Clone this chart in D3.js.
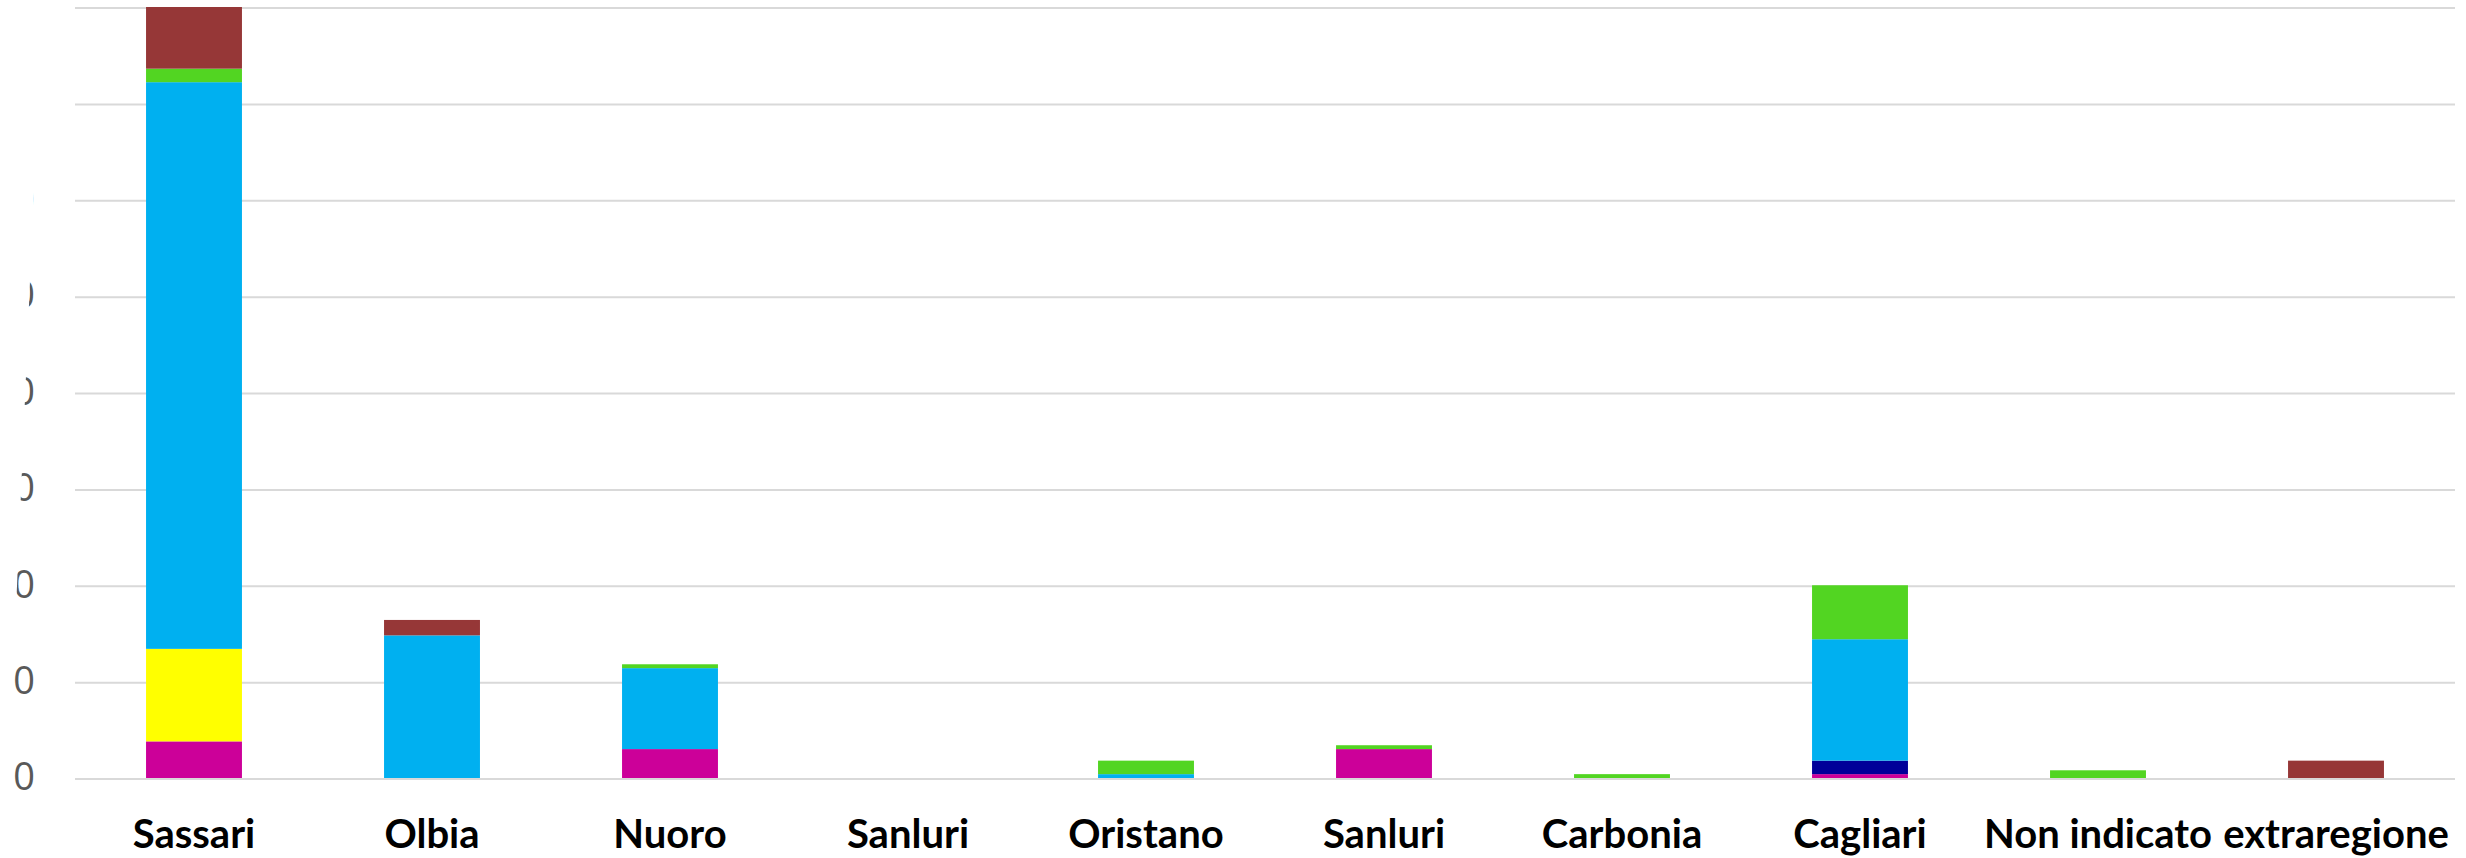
<!DOCTYPE html>
<html>
<head>
<meta charset="utf-8">
<script src="https://cdn.jsdelivr.net/npm/d3@7"></script>
<style>
  html, body { margin: 0; padding: 0; background: #ffffff; }
  svg { display: block; }
</style>
</head>
<body>
<svg id="chart" width="2466" height="858"></svg>
<script>
// ---- data ----
const categories = ["Sassari", "Olbia", "Nuoro", "Sanluri", "Oristano", "Sanluri", "Carbonia", "Cagliari", "Non indicato", "extraregione"];
const seriesNames = ["Serie 1", "Serie 2", "Serie 3", "Serie 4", "Serie 5", "Serie 6"];
const serie1 = [19, 0, 15, 0, 0, 15, 0, 2, 0, 0];   // magenta
const serie2 = [48, 0, 0, 0, 0, 0, 0, 0, 0, 0];     // yellow
const serie3 = [0, 0, 0, 0, 0, 0, 0, 7, 0, 0];      // navy
const serie4 = [294, 74, 42, 0, 2, 0, 0, 63, 0, 0]; // light blue
const serie5 = [7, 0, 2, 0, 7, 2, 2, 28, 4, 0];     // green
const serie6 = [32, 8, 0, 0, 0, 0, 0, 0, 0, 9];     // brown
const yTicks = [0, 50, 100, 150, 200, 250, 300, 350, 400];
const colors = ["#CC0099", "#FFFF00", "#000099", "#00B0F0", "#52D522", "#963737"];

// ---- layout ----
const svg = d3.select("#chart");
const plotLeft = 75, plotRight = 2455, plotBottom = 778, plotTop = 7;

const allSeries = [serie1, serie2, serie3, serie4, serie5, serie6];
const rows = categories.map((c, i) => {
  const r = { idx: i };
  seriesNames.forEach((s, k) => { r[s] = allSeries[k][i]; });
  return r;
});

const x = d3.scaleBand()
  .domain(categories.map((c, i) => i))
  .range([plotLeft, plotRight])
  .paddingInner(0.597)
  .paddingOuter(0.2985);

const y = d3.scaleLinear().domain([0, 400]).range([plotBottom, plotTop]);

// gridlines
svg.append("g")
  .selectAll("line")
  .data(yTicks)
  .join("line")
  .attr("x1", plotLeft)
  .attr("x2", plotRight)
  .attr("y1", d => y(d) + 1)
  .attr("y2", d => y(d) + 1)
  .attr("stroke", "#D9D9D9")
  .attr("stroke-width", 2);

// stacked bars
const stack = d3.stack().keys(seriesNames);
const stacked = stack(rows);

svg.append("g")
  .selectAll("g")
  .data(stacked)
  .join("g")
  .attr("fill", (d, i) => colors[i])
  .selectAll("rect")
  .data(d => d.filter(p => p[1] - p[0] > 0))
  .join("rect")
  .attr("x", d => x(d.data.idx))
  .attr("width", x.bandwidth())
  .attr("y", d => y(d[1]))
  .attr("height", d => y(d[0]) - y(d[1]));

// y axis labels (clipped as in the reference)
const defs = svg.append("defs");
defs.append("clipPath")
  .attr("id", "yclip")
  .append("polygon")
  .attr("points", "42,0 17,586 14,650 14,858 2466,858 2466,0");

const yAxis = d3.axisLeft(y)
  .tickValues(yTicks)
  .tickSize(0)
  .tickPadding(0)
  .tickFormat(d3.format("d"));

const yg = svg.append("g")
  .attr("clip-path", "url(#yclip)")
  .append("g")
  .attr("transform", "translate(35,0)")
  .call(yAxis);
yg.select(".domain").remove();
yg.selectAll("text")
  .attr("fill", "#595959")
  .attr("font-family", "'Open Sans', sans-serif")
  .attr("font-size", 38)
  .attr("dy", "0.31em");

// x axis labels
const xAxis = d3.axisBottom(x)
  .tickSize(0)
  .tickFormat(i => categories[i]);
const xg = svg.append("g")
  .attr("transform", `translate(0,${plotBottom})`)
  .call(xAxis);
xg.select(".domain").remove();
xg.selectAll("text")
  .attr("y", 70)
  .attr("dy", null)
  .attr("fill", "#000000")
  .attr("font-family", "Lato, sans-serif")
  .attr("font-weight", "bold")
  .attr("font-size", 40);
</script>
</body>
</html>
